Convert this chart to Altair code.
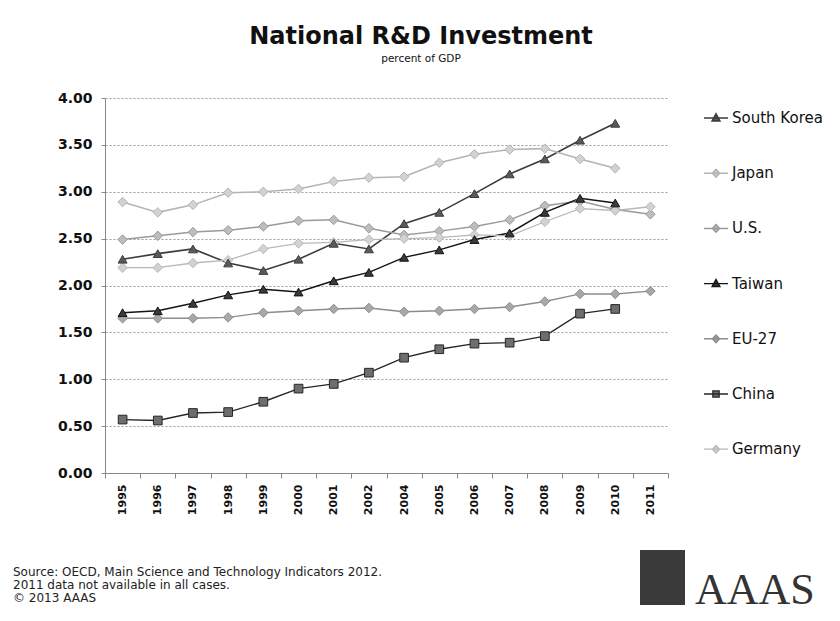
import altair as alt
import pandas as pd

years = ["1995", "1996", "1997", "1998", "1999", "2000", "2001", "2002",
         "2004", "2005", "2006", "2007", "2008", "2009", "2010", "2011"]

countries = ["South Korea", "Japan", "U.S.", "Taiwan", "EU-27", "China", "Germany"]

south_korea = [2.28, 2.34, 2.39, 2.24, 2.16, 2.28, 2.45, 2.39, 2.66, 2.78, 2.98, 3.19, 3.35, 3.55, 3.73, None]
japan = [2.89, 2.78, 2.86, 2.99, 3.00, 3.03, 3.11, 3.15, 3.16, 3.31, 3.40, 3.45, 3.46, 3.35, 3.25, None]
us = [2.49, 2.53, 2.57, 2.59, 2.63, 2.69, 2.70, 2.61, 2.54, 2.58, 2.63, 2.70, 2.85, 2.90, 2.81, 2.76]
taiwan = [1.71, 1.73, 1.81, 1.90, 1.96, 1.93, 2.05, 2.14, 2.30, 2.38, 2.49, 2.56, 2.78, 2.93, 2.88, None]
eu27 = [1.65, 1.65, 1.65, 1.66, 1.71, 1.73, 1.75, 1.76, 1.72, 1.73, 1.75, 1.77, 1.83, 1.91, 1.91, 1.94]
china = [0.57, 0.56, 0.64, 0.65, 0.76, 0.90, 0.95, 1.07, 1.23, 1.32, 1.38, 1.39, 1.46, 1.70, 1.75, None]
germany = [2.19, 2.19, 2.24, 2.27, 2.39, 2.45, 2.46, 2.49, 2.50, 2.51, 2.54, 2.53, 2.68, 2.82, 2.80, 2.84]

series = [south_korea, japan, us, taiwan, eu27, china, germany]

line_colors = ["#3c3c3c", "#b4b4b4", "#9a9a9a", "#141414", "#8c8c8c", "#262626", "#b8b8b8"]
fill_colors = ["#5a5a5a", "#d2d2d2", "#bdbdbd", "#3a3a3a", "#a8a8a8", "#6e6e6e", "#d2d2d2"]
line_widths = [1.6, 1.3, 1.3, 2.0, 1.3, 1.6, 1.3]

tri = "M-1,0H1M0,-0.34L0.32,0.24L-0.32,0.24Z"
dia = "M-1,0H1M0,-0.32L0.3,0L0,0.32L-0.3,0Z"
sq = "M-1,0H1M-0.26,-0.26H0.26V0.26H-0.26Z"
legend_shapes = [tri, dia, dia, tri, dia, sq, dia]

rows = []
for c, vals in zip(countries, series):
    for y, v in zip(years, vals):
        if v is not None:
            rows.append({"Country": c, "Year": y, "Value": v})
df = pd.DataFrame(rows)

FONT = "DejaVu Sans"

x_enc = alt.X("Year:O", sort=years,
              scale=alt.Scale(type="band", domain=years, paddingInner=0, paddingOuter=0),
              axis=alt.Axis(title=None, tickBand="extent", labelAngle=270, grid=False,
                            labelFont=FONT, labelFontWeight="bold", labelFontSize=11,
                            labelColor="#111", labelPadding=6, tickSize=5,
                            tickColor="#888", domainColor="#888"))
y_enc = alt.Y("Value:Q",
              scale=alt.Scale(domain=[0, 4], nice=False, zero=True),
              axis=alt.Axis(title=None, values=[0, 0.5, 1, 1.5, 2, 2.5, 3, 3.5, 4], format=".2f",
                            labelFont=FONT, labelFontWeight="bold", labelFontSize=14,
                            labelColor="#111", labelPadding=9, tickSize=4,
                            tickColor="#888", domainColor="#888",
                            grid=True, gridColor="#9a9a9a", gridDash=[2, 2], gridWidth=1))

stroke_scale = alt.Scale(domain=countries, range=line_colors)
fill_scale = alt.Scale(domain=countries, range=fill_colors)
shape_scale = alt.Scale(domain=countries, range=legend_shapes)

legend = alt.Legend(title=None, orient="none", legendX=598, legendY=7,
                    labelFont=FONT, labelFontSize=15, labelColor="#111",
                    symbolSize=576, symbolStrokeWidth=1.4, rowPadding=34.2,
                    labelOffset=3, symbolOpacity=1)

base = alt.Chart(df)

lines = base.mark_line().encode(
    x=x_enc, y=y_enc,
    stroke=alt.Stroke("Country:N", scale=stroke_scale, legend=legend),
    strokeWidth=alt.StrokeWidth("Country:N", scale=alt.Scale(domain=countries, range=line_widths), legend=None),
    detail="Country:N",
)

def pts(names, shape, size):
    return base.transform_filter(
        alt.FieldOneOfPredicate(field="Country", oneOf=names)
    ).mark_point(filled=True, shape=shape, size=size, strokeWidth=1, opacity=1).encode(
        x=x_enc, y=y_enc,
        stroke=alt.Stroke("Country:N", scale=stroke_scale, legend=legend),
        fill=alt.Fill("Country:N", scale=fill_scale, legend=legend),
    )

p_tri = pts(["South Korea", "Taiwan"], "triangle-up", 80)
p_sq = pts(["China"], "square", 75)
p_dia = pts(["Japan", "U.S.", "EU-27", "Germany"], "diamond", 90)

legend_layer = base.transform_filter("false").mark_point(filled=True, strokeWidth=1.4).encode(
    x=x_enc, y=y_enc,
    stroke=alt.Stroke("Country:N", scale=stroke_scale, legend=legend),
    fill=alt.Fill("Country:N", scale=fill_scale, legend=legend),
    shape=alt.Shape("Country:N", scale=shape_scale, legend=legend),
)

one = pd.DataFrame({"k": [0]})

def label(text, x, y, size, weight="normal", font=FONT, color="#111", align="center"):
    return alt.Chart(one).mark_text(text=text, font=font, fontSize=size, fontWeight=weight,
                                    color=color, align=align, baseline="alphabetic").encode(
        x=alt.value(x), y=alt.value(y))

title = label("National R&D Investment", 316, -54, 24, "bold")
subtitle = label("percent of GDP", 316, -36, 10.5)
foot1 = label("Source: OECD, Main Science and Technology Indicators 2012.", -92, 478, 12, align="left", color="#222")
foot2 = label("2011 data not available in all cases.", -92, 491, 12, align="left", color="#222")
foot3 = label("\u00a9 2013 AAAS", -92, 504, 12, align="left", color="#222")

logo_block = alt.Chart(one).mark_rect(color="#3a3a3a").encode(
    x=alt.value(535), x2=alt.value(580), y=alt.value(452), y2=alt.value(507))
logo_text = label("AAAS", 590, 506, 44, font="Liberation Serif", color="#333", align="left")

chart = alt.layer(
    lines, p_dia, p_tri, p_sq, legend_layer,
    title, subtitle, foot1, foot2, foot3, logo_block, logo_text
).properties(
    width=563, height=375,
    padding={"left": 97, "top": 90, "right": 164, "bottom": 140},
    autosize=alt.AutoSizeParams(type="none"),
    background="white",
).configure_view(stroke=None)

chart.save("out.html", embed_options={"renderer": "svg", "actions": False})
